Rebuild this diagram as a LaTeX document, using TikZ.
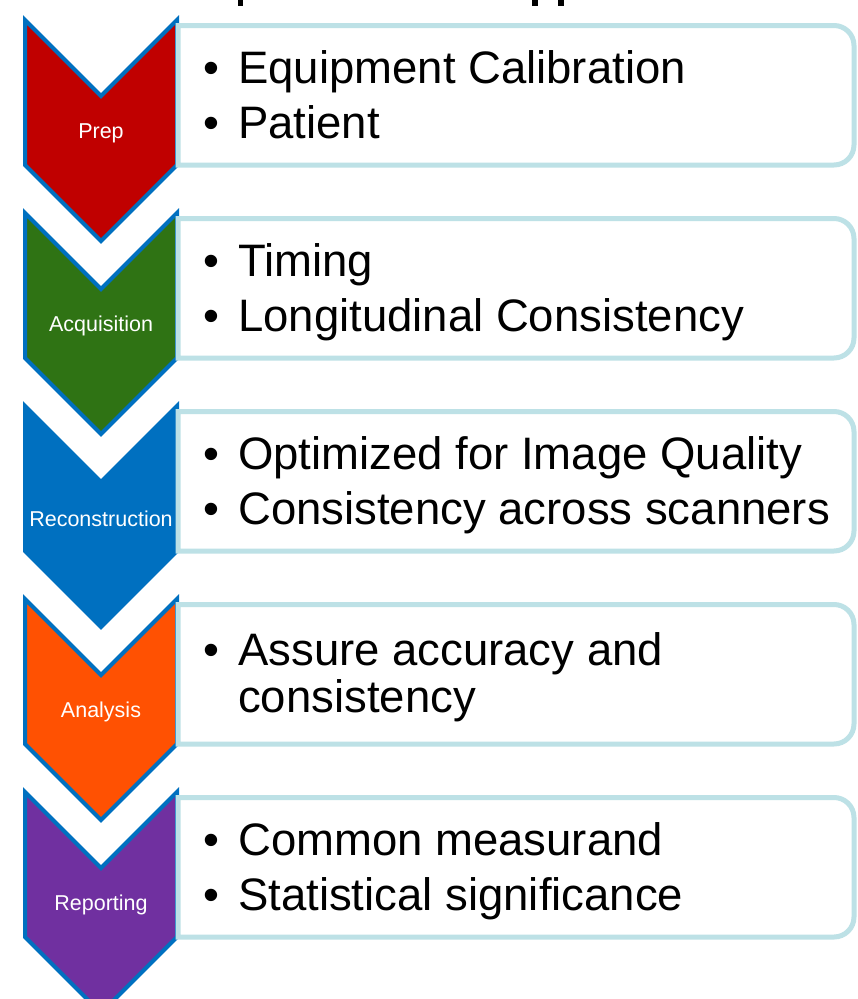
\documentclass[tikz,border=0pt]{standalone}
\usepackage{fontspec}
\setmainfont{Liberation Sans}
\usetikzlibrary{calc}
\definecolor{chevblue}{HTML}{0070C0}
\definecolor{boxline}{HTML}{BDE1E6}
\definecolor{prepred}{HTML}{C00000}
\definecolor{acqgreen}{HTML}{2F7314}
\definecolor{recblue}{HTML}{0070C0}
\definecolor{anaorange}{HTML}{FF5102}
\definecolor{reppurple}{HTML}{7030A0}
% chevron hanging from its top line #2 (px from the top edge)
\def\chevron[#1](#2){\draw[#1] (25,-#2) -- (101,{-#2-76}) -- (177,-#2) -- (177,{-#2-145}) -- (101,{-#2-221}) -- (25,{-#2-145}) -- cycle;}
% list box, square on the left, rounded on the right
\def\listbox(#1){\draw[line width=5pt, draw=boxline, fill=white] (178,{-#1-5.5}) -- (834,{-#1-5.5}) arc[start angle=90, end angle=0, radius=20] -- (854,{-#1-125}) arc[start angle=0, end angle=-90, radius=20] -- (178,{-#1-145}) -- cycle;}
\def\bul{\makebox[35pt][l]{•}}
\tikzset{
	stagelabel/.style={text=white, font=\fontsize{21.5}{25}\selectfont, inner sep=0pt},
	item/.style={anchor=base west, inner sep=0pt, font=\fontsize{45.5}{55}\selectfont}
}

\begin{document}
\begin{tikzpicture}[x=1pt, y=1pt]
		%%%%% START %%%%%
		\clip (0,0) rectangle (858,-999);
		\fill[white] (0,0) rectangle (858,-999);
		
		% what is left of the cut-off title
		\fill[black] (238,0) rectangle (243,-6);
		\fill[black] (532,0) rectangle (538,-6);
		\fill[black] (558,0) rectangle (564,-6);
		
		\chevron[line width=4pt, draw=chevblue, fill=prepred](20);
		\chevron[line width=4pt, draw=chevblue, fill=acqgreen](213);
		\chevron[line width=4pt, draw=chevblue, fill=recblue](406);
		\chevron[line width=4pt, draw=chevblue, fill=anaorange](599);
		\chevron[line width=4pt, draw=chevblue, fill=reppurple](792);
		
		\listbox(20);
		\listbox(213);
		\listbox(406);
		\listbox(599);
		\listbox(792);
		
		\node[stagelabel] (prep) at (101,-133) {Prep};
		\node[stagelabel] (acq) at (101,-326) {Acquisition};
		\node[stagelabel] (recon) at (101,-519) {Reconstruction};
		\node[stagelabel] (analysis) at (101,-712) {Analysis};
		\node[stagelabel] (report) at (101,-905) {Reporting};
		
		\node[item] (calib) at (203,-83) {\bul Equipment Calibration};
		\node[item] (patient) at (203,-138) {\bul Patient};
		
		\node[item] (timing) at (203,-276) {\bul Timing};
		\node[item] (longit) at (203,-331) {\bul Longitudinal Consistency};
		
		\node[item] (quality) at (203,-469) {\bul Optimized for Image Quality};
		\node[item] (scanners) at (203,-524) {\bul Consistency across scanners};
		
		\node[item, anchor=north west, align=left] (accuracy) at (203,-632) {\bul Assure accuracy and\\[-8pt]\hspace*{35pt}consistency};
		
		\node[item] (measurand) at (203,-855) {\bul Common measurand};
		\node[item] (signif) at (203,-910) {\bul Statistical significance};
		
		%%%%% END %%%%%
	\end{tikzpicture}
\end{document}
